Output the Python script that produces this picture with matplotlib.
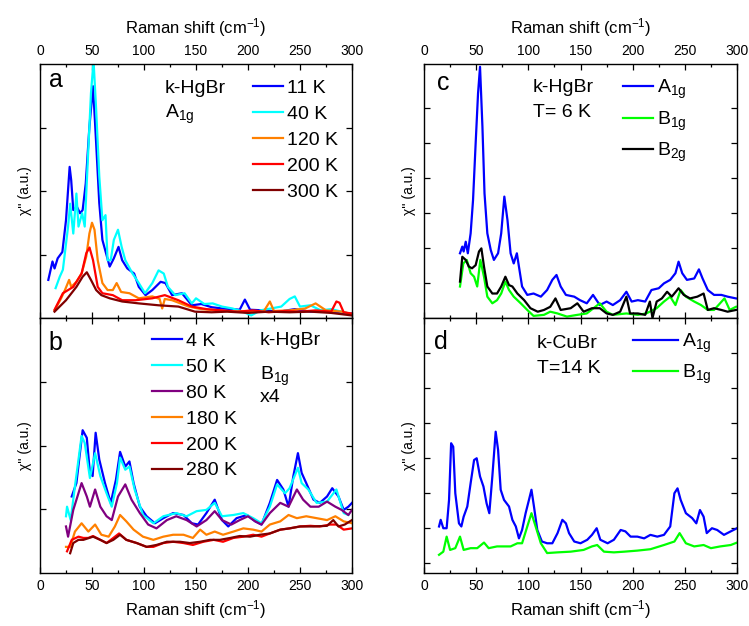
import matplotlib
matplotlib.use("Agg")
import matplotlib.pyplot as plt
from matplotlib.ticker import MultipleLocator

plt.rcParams['font.family'] = ['Liberation Sans', 'DejaVu Sans']
plt.rcParams['mathtext.fontset'] = 'custom'
plt.rcParams['mathtext.rm'] = 'Liberation Sans'
plt.rcParams['mathtext.it'] = 'Liberation Sans:italic'
plt.rcParams['mathtext.default'] = 'regular'

# ---- panel a: k-HgBr A1g, temperature series ----
a_x11 = [8, 12, 14, 17, 21.5, 25, 28.5, 30, 32, 35.5, 38.5, 41, 44, 47.5, 51, 54, 57, 60, 63.5, 67,
         71, 75.5, 79, 84, 90.5, 95, 101.5, 108, 116, 120.6, 127, 136.5, 146, 155, 165, 175, 185, 192,
         197, 202, 215, 230, 245, 260, 275, 290, 300]
a_y11 = [0.60, 0.89, 0.78, 0.94, 1.04, 1.54, 2.38, 2.17, 1.70, 1.75, 1.65, 1.70, 2.12, 3.01, 3.65, 2.75,
         1.81, 1.23, 1.02, 0.81, 0.94, 1.12, 0.91, 0.78, 0.70, 0.49, 0.36, 0.44, 0.57, 0.55, 0.36, 0.39,
         0.20, 0.22, 0.17, 0.15, 0.14, 0.13, 0.29, 0.13, 0.12, 0.10, 0.14, 0.10, 0.11, 0.08, 0.07]
a_x40 = [15, 19, 22, 27, 29, 32, 35, 37, 40.5, 43, 46, 49, 51.5, 54, 57, 60, 63, 65, 68, 71,
         75, 78.5, 82, 89, 95, 101, 108, 114, 119, 123, 130, 139, 146, 150, 158, 166, 175, 185, 195, 203,
         212, 222, 232, 240, 245, 250, 260, 270, 280, 290, 300]
a_y40 = [0.47, 0.65, 0.76, 1.44, 1.80, 1.33, 1.96, 1.44, 1.65, 1.44, 2.49, 3.54, 4.05, 3.28, 2.23, 1.54,
         1.62, 0.91, 0.91, 1.23, 1.39, 1.12, 0.91, 0.70, 0.55, 0.39, 0.55, 0.75, 0.70, 0.49, 0.36, 0.39,
         0.23, 0.31, 0.22, 0.23, 0.18, 0.15, 0.10, 0.04, 0.12, 0.15, 0.18, 0.30, 0.34, 0.18, 0.20, 0.12,
         0.14, 0.10, 0.06]
a_x120 = [14, 20, 24, 28, 30, 35, 40, 44.5, 47.5, 50, 52.4, 55.5, 60, 65, 70, 73.7, 78, 86, 95, 108,
          115, 117.5, 120, 127, 143, 155, 170, 185, 200, 215, 221, 225, 240, 255, 265, 275, 290, 300]
a_y120 = [0.12, 0.30, 0.44, 0.60, 0.49, 0.57, 0.70, 0.97, 1.33, 1.50, 1.39, 0.91, 0.55, 0.44, 0.44, 0.55,
          0.41, 0.39, 0.31, 0.34, 0.30, 0.15, 0.30, 0.28, 0.18, 0.14, 0.12, 0.10, 0.11, 0.10, 0.26, 0.11,
          0.12, 0.15, 0.23, 0.12, 0.10, 0.06]
a_x200 = [14, 22, 32, 40, 44.5, 47.6, 51, 55.5, 60, 70, 79, 92, 108, 120, 133, 146, 160, 175, 190, 205,
          220, 235, 250, 265, 280, 285, 288, 292, 300]
a_y200 = [0.13, 0.39, 0.49, 0.70, 1.02, 1.11, 0.91, 0.49, 0.39, 0.36, 0.28, 0.28, 0.31, 0.36, 0.28, 0.18,
          0.14, 0.12, 0.10, 0.12, 0.09, 0.11, 0.10, 0.12, 0.10, 0.26, 0.24, 0.09, 0.07]
a_x300 = [14, 25, 35, 41, 45, 49, 54, 59, 67, 79, 95, 114, 133, 149, 165, 180, 200, 220, 240, 260, 280, 300]
a_y300 = [0.10, 0.28, 0.49, 0.65, 0.72, 0.60, 0.44, 0.36, 0.31, 0.26, 0.23, 0.20, 0.18, 0.10, 0.09, 0.10,
          0.08, 0.10, 0.09, 0.10, 0.08, 0.04]

# ---- panel b: k-HgBr B1g (x4), temperature series ----
b_x4 = [30.5, 35, 41, 45, 48, 50.6, 53.5, 57, 62.5, 68, 73, 77, 82, 86, 90, 96, 102.5, 110.5, 118.6, 128,
        138, 146, 152, 160, 168, 175, 181, 189, 199, 207, 213, 221, 228, 234, 239, 243.6, 248, 251.6, 256,
        263, 269, 276, 281, 287, 292, 296.5, 300]
b_y4 = [1.20, 1.41, 2.24, 2.12, 1.57, 1.52, 2.20, 1.78, 1.41, 1.10, 1.46, 1.90, 1.67, 1.75, 1.41, 1.04,
        0.89, 0.78, 0.86, 0.94, 0.91, 0.78, 0.76, 0.94, 1.15, 0.83, 0.73, 0.86, 0.91, 0.81, 0.76, 1.10,
        1.46, 1.31, 1.04, 1.52, 1.88, 1.57, 1.41, 1.15, 1.10, 1.20, 1.33, 1.20, 0.99, 1.04, 1.10]
b_x50 = [25, 26, 29.5, 33.6, 40, 43, 48, 53, 58, 64, 69, 74, 77, 82, 86, 91, 99, 109, 118.6, 131,
         141, 150.6, 160, 168, 175, 186, 195.5, 205, 213, 221, 228, 235.6, 240, 248, 251.6, 258, 266, 276,
         285, 292, 296.5]
b_y50 = [0.89, 1.04, 0.83, 1.36, 2.15, 2.04, 1.49, 1.88, 1.52, 1.25, 1.04, 1.41, 1.81, 1.62, 1.67, 1.31,
         0.91, 0.78, 0.89, 0.94, 0.89, 0.97, 0.99, 1.10, 0.89, 0.91, 0.94, 0.86, 0.78, 1.04, 1.39, 1.25,
         1.33, 1.65, 1.41, 1.31, 1.10, 1.12, 1.31, 0.94, 0.91]
b_x80 = [25, 27, 32, 40, 45, 48, 53, 58, 64, 69, 75, 82, 88, 96, 104, 112, 122, 131, 141, 150.6,
         160, 168, 175, 184, 192, 200, 207, 213, 221, 231, 239, 247, 253, 260, 268, 276, 284, 290, 296.5, 300]
b_y80 = [0.73, 0.57, 0.99, 1.41, 1.20, 1.04, 1.31, 1.04, 0.89, 0.83, 1.20, 1.39, 1.15, 0.94, 0.76, 0.70,
         0.83, 0.89, 0.83, 0.73, 0.83, 0.97, 0.83, 0.76, 0.83, 0.89, 0.81, 0.76, 0.94, 1.10, 1.04, 1.31,
         1.15, 1.04, 1.04, 1.12, 1.04, 0.99, 0.91, 0.99]
b_x180 = [25, 29, 33.6, 40, 46.5, 53, 59, 66, 72, 77, 83, 90, 99, 109, 118.6, 128, 138, 147, 154, 160,
          168, 176, 186, 195.5, 205, 213, 221, 231, 239, 247, 256, 266, 276, 284, 292, 300]
b_y180 = [0.41, 0.41, 0.65, 0.78, 0.65, 0.76, 0.60, 0.57, 0.73, 0.91, 0.81, 0.68, 0.57, 0.52, 0.57, 0.60,
          0.60, 0.55, 0.68, 0.60, 0.65, 0.60, 0.65, 0.70, 0.68, 0.65, 0.76, 0.81, 0.91, 0.86, 0.89, 0.86,
          0.83, 0.89, 0.81, 0.78]
b_x200 = [26, 30.5, 37, 41.7, 46.5, 51, 58, 64, 70.5, 76, 83, 93, 102.5, 109, 118.6, 128, 138, 147, 157, 167,
          176, 186, 195.5, 205, 213, 221, 231, 240, 250, 260, 269, 279, 285, 292, 300]
b_y200 = [0.34, 0.52, 0.57, 0.55, 0.55, 0.58, 0.52, 0.47, 0.55, 0.62, 0.52, 0.47, 0.41, 0.41, 0.47, 0.49,
          0.47, 0.44, 0.49, 0.52, 0.49, 0.55, 0.57, 0.60, 0.57, 0.62, 0.68, 0.70, 0.73, 0.74, 0.73, 0.76,
          0.76, 0.68, 0.70]
b_x280 = [29, 32, 37, 41.7, 51, 58, 64, 70.5, 77, 83, 93, 102.5, 112, 122, 134.6, 144, 154, 163.5, 173, 183,
          192, 202, 211.5, 221, 231, 240, 250, 263, 276, 282, 287, 293, 300]
b_y280 = [0.31, 0.47, 0.52, 0.52, 0.57, 0.52, 0.47, 0.52, 0.60, 0.52, 0.47, 0.41, 0.44, 0.49, 0.49, 0.47,
          0.49, 0.52, 0.52, 0.55, 0.58, 0.57, 0.60, 0.62, 0.68, 0.70, 0.73, 0.73, 0.74, 0.83, 0.73, 0.76, 0.83]

# ---- panel c: k-HgBr, T = 6 K, symmetries ----
c_xa1g = [34.5, 36.7, 38, 40, 42, 44.7, 47, 49.5, 51.8, 53.7, 56, 58, 60.7, 64, 67, 71, 74, 77, 80, 83,
          86, 89, 91, 94, 99, 105, 112, 118, 123, 127, 131, 136, 144, 149.5, 156, 162, 168.5, 175, 181, 188,
          194, 199, 205, 212, 218, 225, 230, 236, 241, 244, 247.5, 252, 259, 263.5, 267, 272, 278, 285, 291, 299]
c_ya1g = [1.85, 2.04, 1.90, 2.18, 1.85, 2.42, 3.37, 4.99, 6.42, 7.18, 5.47, 3.56, 2.42, 1.94, 1.66, 1.85,
          2.42, 3.47, 2.80, 1.85, 1.56, 1.85, 1.47, 0.90, 0.66, 0.70, 0.61, 0.80, 1.09, 1.23, 0.90, 0.66,
          0.61, 0.51, 0.42, 0.66, 0.37, 0.47, 0.37, 0.51, 0.75, 0.47, 0.51, 0.47, 0.80, 0.85, 0.99, 1.09,
          1.28, 1.61, 1.28, 1.09, 1.13, 1.39, 1.13, 0.80, 0.66, 0.66, 0.61, 0.56]
c_xb1g = [34.5, 37.7, 41, 44.7, 48, 51, 54, 57.5, 60.7, 65.5, 70, 74, 78, 81.5, 86, 92.7, 99, 105, 115, 121,
          128, 137, 147, 156, 168.5, 175, 181, 194, 205, 213, 223, 230, 236, 241, 246, 251, 259, 265.5, 272,
          278, 288, 293, 299]
c_yb1g = [0.90, 1.56, 1.66, 1.28, 1.18, 0.90, 1.66, 1.18, 0.61, 0.42, 0.51, 0.70, 1.04, 0.80, 0.61, 0.42,
          0.23, 0.06, 0.09, 0.18, 0.13, 0.04, 0.09, 0.13, 0.42, 0.18, 0.09, 0.13, 0.09, 0.13, 0.28, 0.47,
          0.61, 0.37, 0.80, 0.61, 0.47, 0.37, 0.23, 0.23, 0.56, 0.23, 0.32]
c_xb2g = [34.5, 36.7, 40, 43, 46, 49.5, 52.7, 55, 57.5, 60.7, 65.5, 70, 74, 78, 81.5, 84.7, 89.5, 96, 102, 109,
          115, 121, 126, 131, 140.6, 147, 153, 161, 168.5, 175, 181, 188, 194, 197.5, 205, 212, 216.5, 219,
          223, 228, 233, 237.5, 244, 249, 255, 262, 268, 272, 278, 285, 291, 299]
c_yb2g = [1.04, 1.75, 1.66, 1.47, 1.42, 1.51, 1.90, 1.99, 1.47, 0.90, 0.70, 0.70, 0.90, 1.18, 0.94, 0.90,
          0.70, 0.51, 0.28, 0.18, 0.23, 0.32, 0.56, 0.23, 0.28, 0.42, 0.18, 0.28, 0.28, 0.13, 0.09, 0.18,
          0.61, 0.13, 0.13, 0.09, 0.47, 0.00, 0.47, 0.56, 0.75, 0.61, 0.85, 0.66, 0.56, 0.61, 0.70, 0.23,
          0.28, 0.23, 0.18, 0.23]

# ---- panel d: k-CuBr, T = 14 K ----
d_xa1g = [14.4, 16, 18.5, 21.7, 24, 26, 28, 30, 33.5, 35.8, 38, 41.5, 44.7, 48, 50.5, 53.7, 57, 60, 62.6, 65.5,
          68.7, 71, 73.5, 76.7, 81.5, 84.7, 88, 91, 94, 97.4, 100.6, 103, 105.4, 108.6, 113, 118, 123, 128,
          132.6, 136, 139, 144, 150, 156.5, 161, 165.5, 169, 176, 182, 188.5, 193, 198, 204.5, 211, 217,
          223.6, 230, 236, 240, 243, 246, 251, 257, 261, 264.5, 268, 271, 276, 281, 287.5, 294, 300]
d_ya1g = [1.04, 1.23, 0.99, 0.99, 1.80, 3.42, 3.32, 1.99, 1.13, 1.04, 1.32, 1.61, 2.28, 2.94, 2.99, 2.47,
          2.18, 1.70, 1.42, 2.47, 3.75, 3.23, 2.09, 1.80, 1.61, 1.23, 1.04, 0.70, 0.94, 1.42, 1.80, 2.09,
          1.61, 0.94, 0.61, 0.56, 0.56, 0.85, 1.23, 1.13, 0.85, 0.61, 0.56, 0.66, 0.80, 0.99, 0.66, 0.56,
          0.66, 0.94, 0.90, 0.75, 0.75, 0.70, 0.80, 0.75, 0.80, 1.04, 1.99, 2.13, 1.80, 1.42, 1.28, 1.13,
          1.51, 1.32, 0.85, 0.99, 0.94, 0.80, 0.90, 0.99]
d_xb1g = [14.4, 18.5, 21.7, 25, 30, 34.5, 38, 44.7, 51, 57.5, 62, 70, 76.7, 83, 89.5, 94, 99, 103, 107, 112,
          118, 128, 140.6, 153, 161, 166, 172.5, 182, 192, 204.5, 217, 230, 240, 245, 251, 259, 268, 275,
          284, 294, 300]
d_yb1g = [0.23, 0.32, 0.75, 0.37, 0.42, 0.75, 0.37, 0.42, 0.42, 0.58, 0.42, 0.47, 0.47, 0.47, 0.56, 0.56,
          1.04, 1.42, 1.04, 0.56, 0.28, 0.30, 0.32, 0.37, 0.47, 0.51, 0.32, 0.30, 0.32, 0.35, 0.39, 0.51,
          0.61, 0.85, 0.56, 0.47, 0.51, 0.42, 0.47, 0.51, 0.58]

BLUE = '#0000ff'
CYAN = '#00ffff'
ORANGE = '#ff8000'
RED = '#ff0000'
DARKRED = '#800000'
PURPLE = '#800080'
GREEN = '#00ff00'
LW = 1.6
TXT = 14

W, H = 749, 626
fig = plt.figure(figsize=(W / 100, H / 100), dpi=100)


def box(x0, x1, y0, y1):
    # pixel box -> figure fraction
    return [x0 / W, (H - y1) / H, (x1 - x0) / W, (y1 - y0) / H]


ax_a = fig.add_axes(box(40, 352, 64, 318))
ax_b = fig.add_axes(box(40, 352, 318, 573))
ax_c = fig.add_axes(box(424, 737, 64, 318))
ax_d = fig.add_axes(box(424, 737, 318, 573))


def style(ax, on_top):
    ax.set_xlim(0, 300)
    ax.xaxis.set_major_locator(MultipleLocator(50))
    ax.xaxis.set_minor_locator(MultipleLocator(25))
    ax.tick_params(which='both', direction='in', top=True, right=True,
                   labelleft=False, labelsize=10, pad=4, width=0.9)
    ax.tick_params(which='major', length=4)
    ax.tick_params(which='minor', length=2.5)
    if on_top:
        ax.tick_params(labeltop=True, labelbottom=False)
        ax.xaxis.set_label_position('top')
        ax.set_xlabel('Raman shift (cm$^{-1}$)', fontsize=12, labelpad=8)
    else:
        ax.set_xlabel('Raman shift (cm$^{-1}$)', fontsize=12, labelpad=4)
    ax.set_ylabel("χ'' (a.u.)", fontsize=10, labelpad=6)
    for s in ax.spines.values():
        s.set_linewidth(1.0)


for ax, top in [(ax_a, True), (ax_b, False), (ax_c, True), (ax_d, False)]:
    style(ax, top)

legkw = dict(loc='upper left', frameon=False, fontsize=TXT, borderpad=0,
             borderaxespad=0, handletextpad=0.2)

# panel a
ax_a.plot(a_x11, a_y11, color=BLUE, lw=LW, label='11 K')
ax_a.plot(a_x40, a_y40, color=CYAN, lw=LW, label='40 K')
ax_a.plot(a_x120, a_y120, color=ORANGE, lw=LW, label='120 K')
ax_a.plot(a_x200, a_y200, color=RED, lw=LW, label='200 K')
ax_a.plot(a_x300, a_y300, color=DARKRED, lw=LW, label='300 K')
ax_a.set_ylim(0, 4)
ax_a.set_yticks([1, 2, 3])
ax_a.legend(bbox_to_anchor=(0.683, 0.94), handlelength=1.55, labelspacing=0.43, **legkw)
ax_a.text(0.030, 0.909, 'a', transform=ax_a.transAxes, fontsize=18, va='baseline')
ax_a.text(0.40, 0.886, 'k-HgBr', transform=ax_a.transAxes, fontsize=TXT, va='baseline')
ax_a.text(0.40, 0.787, 'A$_{1g}$', transform=ax_a.transAxes, fontsize=TXT, va='baseline')

# panel b
ax_b.plot(b_x4, b_y4, color=BLUE, lw=LW, label='4 K')
ax_b.plot(b_x50, b_y50, color=CYAN, lw=LW, label='50 K')
ax_b.plot(b_x80, b_y80, color=PURPLE, lw=LW, label='80 K')
ax_b.plot(b_x180, b_y180, color=ORANGE, lw=LW, label='180 K')
ax_b.plot(b_x200, b_y200, color=RED, lw=LW, label='200 K')
ax_b.plot(b_x280, b_y280, color=DARKRED, lw=LW, label='280 K')
ax_b.set_ylim(0, 4)
ax_b.set_yticks([1, 2, 3])
ax_b.legend(bbox_to_anchor=(0.358, 0.945), handlelength=1.55, labelspacing=0.43, **legkw)
ax_b.text(0.028, 0.875, 'b', transform=ax_b.transAxes, fontsize=18, va='baseline')
ax_b.text(0.705, 0.894, 'k-HgBr', transform=ax_b.transAxes, fontsize=TXT, va='baseline')
ax_b.text(0.705, 0.757, 'B$_{1g}$', transform=ax_b.transAxes, fontsize=TXT, va='baseline')
ax_b.text(0.705, 0.671, 'x4', transform=ax_b.transAxes, fontsize=TXT, va='baseline')

# panel c
ax_c.plot(c_xa1g, c_ya1g, color=BLUE, lw=LW, label='A$_{1g}$')
ax_c.plot(c_xb1g, c_yb1g, color=GREEN, lw=LW, label='B$_{1g}$')
ax_c.plot(c_xb2g, c_yb2g, color='black', lw=LW, label='B$_{2g}$')
ax_c.set_ylim(0, 7.26)
ax_c.set_yticks([1, 2, 3, 4, 5, 6])
ax_c.legend(bbox_to_anchor=(0.636, 0.945), handlelength=1.55, labelspacing=0.42, **legkw)
ax_c.text(0.040, 0.898, 'c', transform=ax_c.transAxes, fontsize=18, va='baseline')
ax_c.text(0.348, 0.890, 'k-HgBr', transform=ax_c.transAxes, fontsize=TXT, va='baseline')
ax_c.text(0.348, 0.790, 'T= 6 K', transform=ax_c.transAxes, fontsize=TXT, va='baseline')

# panel d
ax_d.plot(d_xa1g, d_ya1g, color=BLUE, lw=LW, label='A$_{1g}$')
ax_d.plot(d_xb1g, d_yb1g, color=GREEN, lw=LW, label='B$_{1g}$')
ax_d.set_ylim(-0.29, 7.0)
ax_d.set_yticks([0, 1, 2, 3, 4, 5, 6])
ax_d.legend(bbox_to_anchor=(0.668, 0.947), handlelength=2.3, labelspacing=0.42, **legkw)
ax_d.text(0.033, 0.878, 'd', transform=ax_d.transAxes, fontsize=18, va='baseline')
ax_d.text(0.361, 0.882, 'k-CuBr', transform=ax_d.transAxes, fontsize=TXT, va='baseline')
ax_d.text(0.361, 0.784, 'T=14 K', transform=ax_d.transAxes, fontsize=TXT, va='baseline')

fig.savefig('out.png', dpi=100)
